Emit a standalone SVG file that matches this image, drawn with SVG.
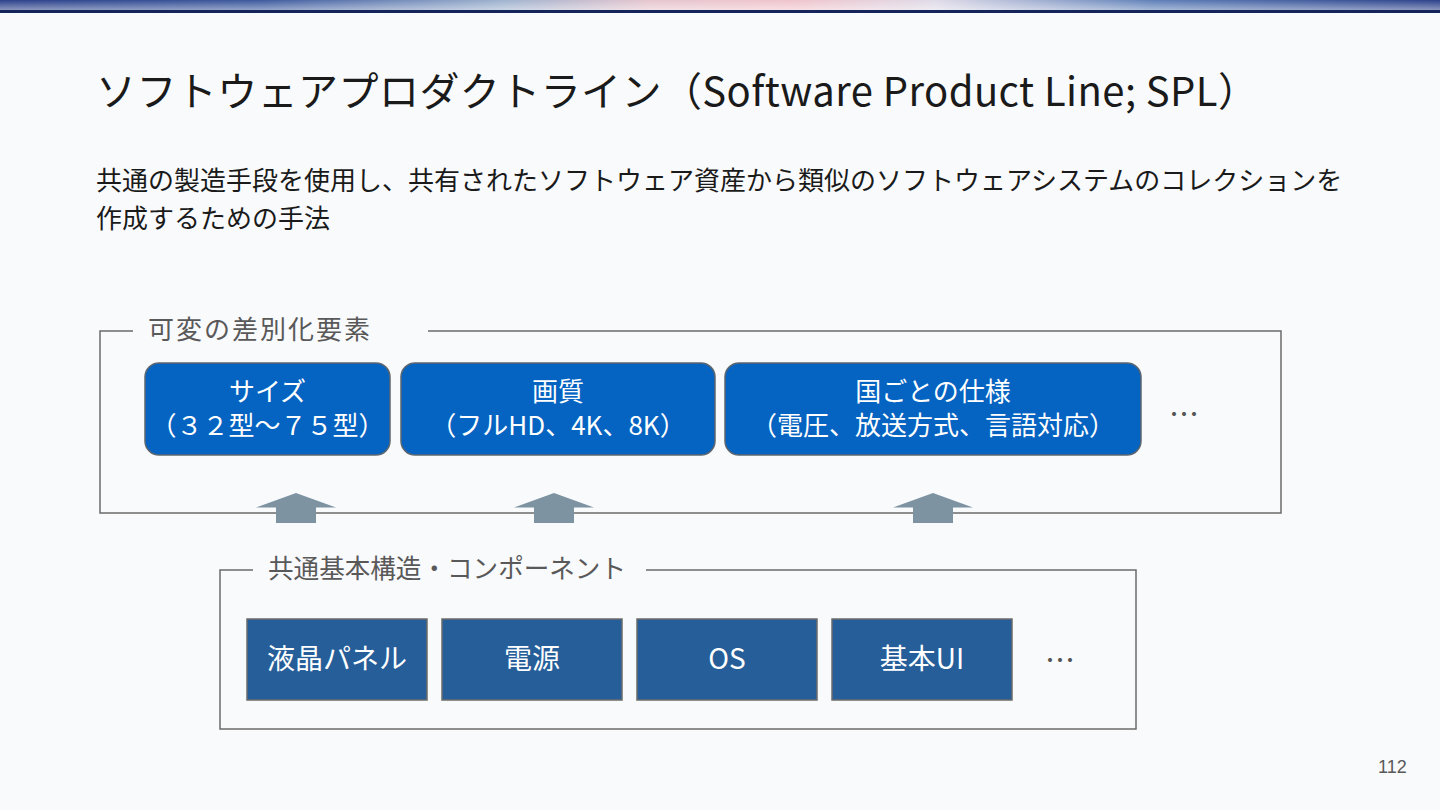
<svg xmlns="http://www.w3.org/2000/svg" width="1440" height="810" viewBox="0 0 1440 810">
<defs>
<linearGradient id="barH" x1="0" y1="0" x2="1" y2="0">
<stop offset="0" stop-color="#2c418a"/>
<stop offset="0.18" stop-color="#3d5a9e"/>
<stop offset="0.35" stop-color="#9fb3cf"/>
<stop offset="0.45" stop-color="#e6c6cf"/>
<stop offset="0.55" stop-color="#f0c4cc"/>
<stop offset="0.65" stop-color="#dfdbe8"/>
<stop offset="0.8" stop-color="#5f80b8"/>
<stop offset="1" stop-color="#2c418a"/>
</linearGradient>
<linearGradient id="barV" x1="0" y1="0" x2="0" y2="1">
<stop offset="0" stop-color="#ffffff" stop-opacity="0"/>
<stop offset="1" stop-color="#ffffff" stop-opacity="0.45"/>
</linearGradient>
<style>
text{font-family:"Noto Sans CJK JP","Noto Sans",sans-serif;}
.title{font-size:40px;fill:#1a1a1a;}
.sub{font-size:26px;fill:#1a1a1a;}
.glabel{font-size:26px;fill:#595959;}
.frame{fill:none;stroke:#6b6b6b;stroke-width:1.5;}
.vbox{fill:#0563c1;stroke:#5b6670;stroke-width:1.5;}
.cbox{fill:#255e99;stroke:#6b6b6b;stroke-width:1.5;}
.btext{font-size:26px;fill:#ffffff;text-anchor:middle;}
.ctext{font-size:28px;fill:#ffffff;text-anchor:middle;}
.arrow{fill:#7d93a2;}
.dots{font-size:30px;fill:#555555;text-anchor:middle;}
.pnum{font-size:18px;fill:#595959;font-family:"Liberation Sans",sans-serif;}
</style>
</defs>
<rect x="0" y="0" width="1440" height="810" fill="#f9fafc"/>
<rect x="0" y="0" width="1440" height="10" fill="url(#barH)"/>
<rect x="0" y="0" width="1440" height="10" fill="url(#barV)"/>
<rect x="0" y="10" width="1440" height="3" fill="#16245c"/>

<text class="title" x="96" y="106" textLength="1162" lengthAdjust="spacing">ソフトウェアプロダクトライン（Software Product Line; SPL）</text>
<text class="sub" x="96" y="190">共通の製造手段を使用し、共有されたソフトウェア資産から類似のソフトウェアシステムのコレクションを</text>
<text class="sub" x="96" y="228">作成するための手法</text>

<g id="variable-group">
<path class="frame" d="M133 331 H100 V513 H1281 V331 H428"/>
<text class="glabel" x="148" y="339" textLength="222" lengthAdjust="spacing">可変の差別化要素</text>
</g>
<g id="node-size">
<rect class="vbox" x="145" y="363" width="245" height="92" rx="14"/>
<text class="btext" x="267.5" y="401">サイズ</text>
<text class="btext" x="267.5" y="435">（３２型～７５型）</text>
</g>
<g id="node-quality">
<rect class="vbox" x="401" y="363" width="314" height="92" rx="14"/>
<text class="btext" x="558" y="401">画質</text>
<text class="btext" x="558" y="435">（フルHD、4K、8K）</text>
</g>
<g id="node-country">
<rect class="vbox" x="725" y="363" width="416" height="92" rx="14"/>
<text class="btext" x="933" y="401">国ごとの仕様</text>
<text class="btext" x="933" y="435">（電圧、放送方式、言語対応）</text>
</g>
<g id="variable-more">
<text class="dots" x="1184" y="425">…</text>
</g>

<g id="common-group">
<path class="frame" d="M253 570 H220 V729 H1136 V570 H646"/>
<text class="glabel" x="268" y="578" textLength="358" lengthAdjust="spacingAndGlyphs">共通基本構造・コンポーネント</text>
</g>
<g id="node-panel">
<rect class="cbox" x="247" y="619" width="180" height="81"/>
<text class="ctext" x="337" y="669">液晶パネル</text>
</g>
<g id="node-power">
<rect class="cbox" x="442" y="619" width="180" height="81"/>
<text class="ctext" x="532" y="669">電源</text>
</g>
<g id="node-os">
<rect class="cbox" x="637" y="619" width="180" height="81"/>
<text class="ctext" x="727" y="669">OS</text>
</g>
<g id="node-ui">
<rect class="cbox" x="832" y="619" width="180" height="81"/>
<text class="ctext" x="922" y="669">基本UI</text>
</g>
<g id="common-more">
<text class="dots" x="1060" y="671">…</text>
</g>

<g id="connectors">
<polygon class="arrow" points="296,493 336,507.5 316,507.5 316,523 276,523 276,507.5 256,507.5"/>
<polygon class="arrow" points="554,493 594,507.5 574,507.5 574,523 534,523 534,507.5 514,507.5"/>
<polygon class="arrow" points="933,493 973,507.5 953,507.5 953,523 913,523 913,507.5 893,507.5"/>
</g>

<text class="pnum" x="1378" y="773">112</text>
</svg>
